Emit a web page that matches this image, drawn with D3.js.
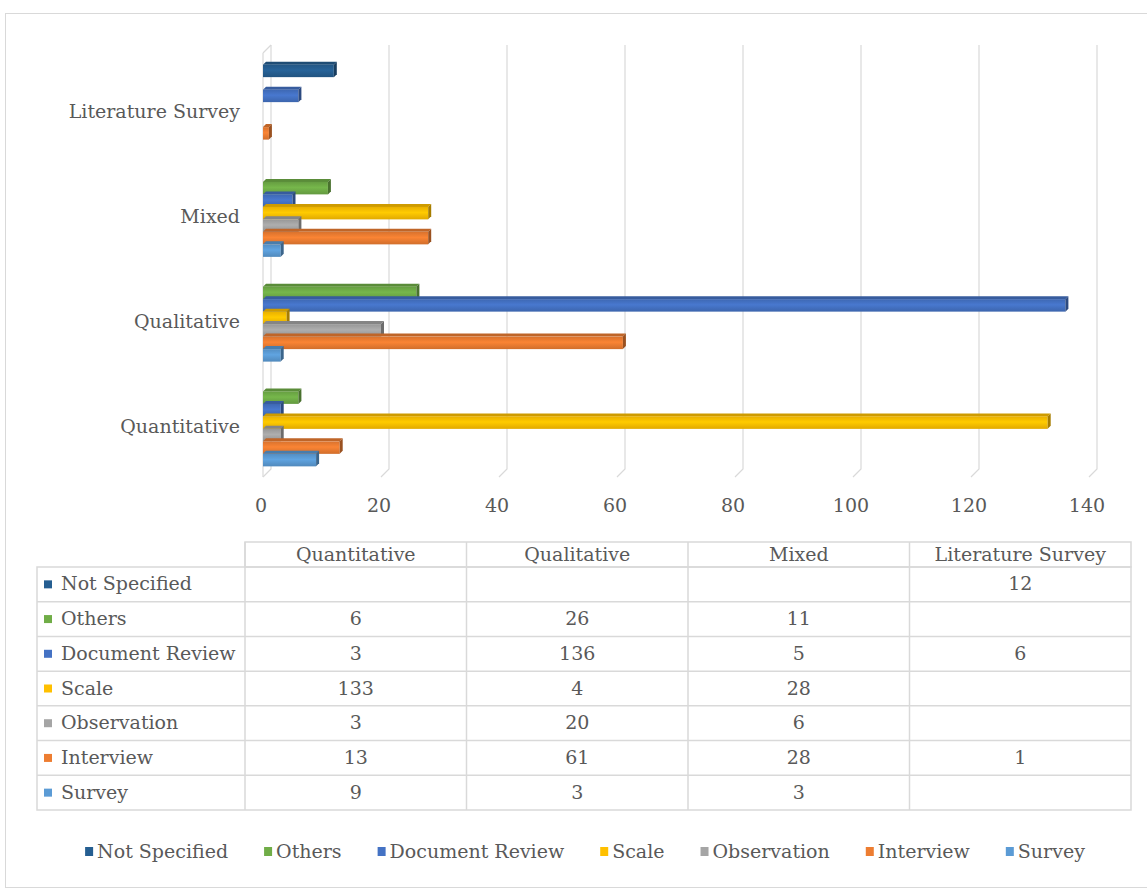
<!DOCTYPE html>
<html>
<head>
<meta charset="utf-8">
<script src="https://cdn.jsdelivr.net/npm/d3@7"></script>
<style>
  body { margin: 0; background: #fff; }
  text { font-family: "DejaVu Serif", serif; fill: #595959; }
</style>
</head>
<body>
<script>
const width = 1147;
const height = 891;

// data
const categories = ["Quantitative", "Qualitative", "Mixed", "Literature Survey"];
const seriesNames = ["Not Specified", "Others", "Document Review", "Scale", "Observation", "Interview", "Survey"];
const notSpecified = [null, null, null, 12];
const others = [6, 26, 11, null];
const documentReview = [3, 136, 5, 6];
const scale = [133, 4, 28, null];
const observation = [3, 20, 6, null];
const interview = [13, 61, 28, 1];
const survey = [9, 3, 3, null];
const xTicks = [0, 20, 40, 60, 80, 100, 120, 140];
const colors = ["#255E91", "#70AD47", "#4472C4", "#FFC000", "#A5A5A5", "#ED7D31", "#5B9BD5"];

const values = [notSpecified, others, documentReview, scale, observation, interview, survey];
const series = seriesNames.map((name, i) => ({ name, color: colors[i], values: values[i] }));

const fontSize = "19px";

const svg = d3.select("body").append("svg")
    .attr("width", width)
    .attr("height", height);

// outer frame
svg.append("rect")
    .attr("x", 5.5).attr("y", 13.5)
    .attr("width", 1160).attr("height", 874)
    .attr("fill", "none")
    .attr("stroke", "#d9d9d9");

const depth = 8;
const x = d3.scaleLinear().domain([0, 140]).range([263, 263 + 140 * 5.9]);
const y = d3.scaleBand()
    .domain(categories.slice().reverse())
    .range([55, 474])
    .paddingInner(0.165)
    .paddingOuter(0.0825);
const ys = d3.scaleBand().domain(seriesNames).range([0, y.bandwidth()]);

const plotTop = 45, plotBottom = 477;

// back wall / floor gridlines
const grid = svg.append("g")
    .attr("stroke", "#d9d9d9")
    .attr("fill", "none")
    .attr("stroke-width", 1.2);

grid.selectAll("path.grid")
    .data(xTicks)
    .join("path")
    .attr("d", d => {
        const bx = x(d) + depth;
        return `M${bx},${plotTop}L${bx},${plotBottom - depth}L${x(d)},${plotBottom}`;
    });

// side wall edge
grid.append("path")
    .attr("d", `M${x(0)},${plotTop + depth}L${x(0) + depth},${plotTop}M${x(0)},${plotTop + depth}L${x(0)},${plotBottom}`);

// bars
const defs = svg.append("defs");
series.forEach((s, i) => {
    const grad = defs.append("linearGradient")
        .attr("id", "g" + i)
        .attr("x1", 0).attr("y1", 0).attr("x2", 0).attr("y2", 1);
    const c = d3.color(s.color);
    grad.append("stop").attr("offset", "0%").attr("stop-color", c.darker(0.25));
    grad.append("stop").attr("offset", "45%").attr("stop-color", c.brighter(0.15));
    grad.append("stop").attr("offset", "100%").attr("stop-color", c.darker(0.35));
});

const barData = [];
categories.forEach((cat, ci) => {
    series.forEach((s, si) => {
        const v = s.values[ci];
        if (v != null) barData.push({ cat, name: s.name, v, si, color: s.color });
    });
});
barData.sort((a, b) => (y(a.cat) + ys(a.name)) - (y(b.cat) + ys(b.name)));

const bd = 3;
const bars = svg.append("g");
barData.forEach(d => {
    const y0 = y(d.cat) + ys(d.name) + 1;
    const h = ys.bandwidth();
    const x0 = x(0), x1 = x(d.v);
    const c = d3.color(d.color);
    const g = bars.append("g");
    g.append("path")
        .attr("d", `M${x0},${y0}L${x0 + bd},${y0 - bd}L${x1 + bd},${y0 - bd}L${x1},${y0}Z`)
        .attr("fill", c.darker(0.6));
    g.append("rect")
        .attr("x", x0).attr("y", y0)
        .attr("width", x1 - x0).attr("height", h)
        .attr("fill", `url(#g${d.si})`);
    g.append("path")
        .attr("d", `M${x1},${y0}L${x1 + bd},${y0 - bd}L${x1 + bd},${y0 + h - bd}L${x1},${y0 + h}Z`)
        .attr("fill", c.darker(1.2));
});

// x tick labels
svg.append("g")
    .selectAll("text")
    .data(xTicks)
    .join("text")
    .attr("x", d => x(d) - 2)
    .attr("y", 512)
    .attr("text-anchor", "middle")
    .attr("font-size", fontSize)
    .text(d => d);

// category labels
svg.append("g")
    .selectAll("text")
    .data(categories)
    .join("text")
    .attr("x", 240)
    .attr("y", d => y(d) + y.bandwidth() / 2 + 11)
    .attr("text-anchor", "end")
    .attr("font-size", fontSize)
    .text(d => d);

// data table
const tableLeft = 37;
const col = d3.scaleBand().domain(categories).range([245, 1131]);
const row = d3.scaleBand().domain(seriesNames).range([567, 810]);
const headTop = 542;
const table = svg.append("g");
const lineColor = "#d9d9d9";

table.append("rect")
    .attr("x", 245).attr("y", headTop)
    .attr("width", 1131 - 245).attr("height", 567 - headTop)
    .attr("fill", "none").attr("stroke", lineColor).attr("stroke-width", 1.5);
table.append("rect")
    .attr("x", tableLeft).attr("y", 567)
    .attr("width", 1131 - tableLeft).attr("height", 810 - 567)
    .attr("fill", "none").attr("stroke", lineColor).attr("stroke-width", 1.5);

table.selectAll("line.col")
    .data(categories)
    .join("line")
    .attr("x1", d => col(d)).attr("x2", d => col(d))
    .attr("y1", headTop).attr("y2", 810)
    .attr("stroke", lineColor).attr("stroke-width", 1.5);

table.selectAll("line.row")
    .data(seriesNames.slice(1))
    .join("line")
    .attr("x1", tableLeft).attr("x2", 1131)
    .attr("y1", d => row(d)).attr("y2", d => row(d))
    .attr("stroke", lineColor).attr("stroke-width", 1.5);

table.selectAll("text.head")
    .data(categories)
    .join("text")
    .attr("x", d => col(d) + col.bandwidth() / 2)
    .attr("y", 561)
    .attr("text-anchor", "middle")
    .attr("font-size", fontSize)
    .text(d => d);

series.forEach(s => {
    const cy = row(s.name) + row.bandwidth() / 2;
    table.append("rect")
        .attr("x", 44).attr("y", cy - 4)
        .attr("width", 8).attr("height", 8)
        .attr("fill", s.color);
    table.append("text")
        .attr("x", 61).attr("y", cy + 6)
        .attr("font-size", fontSize)
        .text(s.name);
    categories.forEach((cat, ci) => {
        if (s.values[ci] == null) return;
        table.append("text")
            .attr("x", col(cat) + col.bandwidth() / 2)
            .attr("y", cy + 6)
            .attr("text-anchor", "middle")
            .attr("font-size", fontSize)
            .text(s.values[ci]);
    });
});

// legend
const legend = svg.append("g");
const items = series.map(s => {
    const g = legend.append("g");
    g.append("rect").attr("width", 8).attr("height", 9).attr("y", -5).attr("fill", s.color);
    const t = g.append("text")
        .attr("x", 12).attr("y", 6)
        .attr("font-size", fontSize)
        .text(s.name);
    return { g, w: 12 + t.node().getComputedTextLength() };
});
const gap = 36;
const total = d3.sum(items, d => d.w) + gap * (items.length - 1);
let lx = 585 - total / 2;
items.forEach(it => {
    it.g.attr("transform", `translate(${lx},852)`);
    lx += it.w + gap;
});
</script>
</body>
</html>
